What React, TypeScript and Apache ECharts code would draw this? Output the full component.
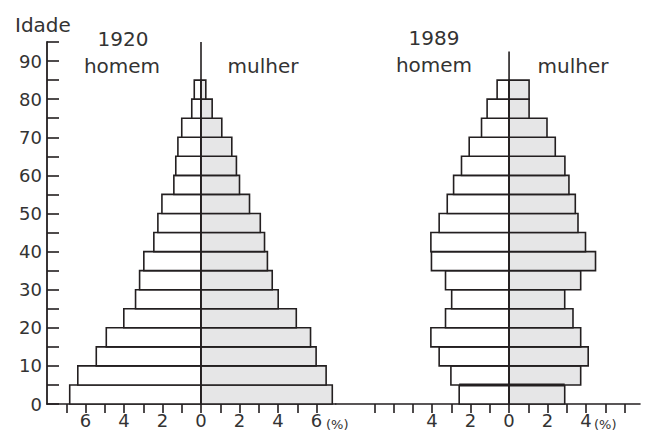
import React, { useEffect, useRef } from "react";
import * as echarts from "echarts";

const ageStarts = [0, 5, 10, 15, 20, 25, 30, 35, 40, 45, 50, 55, 60, 65, 70, 75, 80];
const homem1920 = [6.82, 6.4, 5.44, 4.92, 4.01, 3.4, 3.19, 2.97, 2.45, 2.24, 2.03, 1.41, 1.31, 1.2, 1.0, 0.48, 0.35];
const mulher1920 = [6.82, 6.5, 5.98, 5.69, 4.95, 4.01, 3.7, 3.45, 3.3, 3.08, 2.52, 2.0, 1.84, 1.6, 1.08, 0.58, 0.25];
const homem1989 = [2.59, 3.02, 3.63, 4.06, 3.3, 2.98, 3.3, 4.03, 4.06, 3.63, 3.21, 2.88, 2.47, 2.07, 1.43, 1.14, 0.62];
const mulher1989 = [2.89, 3.72, 4.11, 3.72, 3.32, 2.89, 3.72, 4.49, 3.97, 3.58, 3.44, 3.11, 2.9, 2.4, 1.97, 1.04, 1.04];

const xTicks = [-7, -6, -5, -4, -3, -2, -1, 0, 1, 2, 3, 4, 5, 6];
const xLabels1920 = [-6, -4, -2, 0, 2, 4, 6];
const xLabels1989 = [-4, -2, 0, 2, 4];

const INK = "#231f20";
const TXT = "#333333";
const FEM = "#e6e6e7";
const FONT = "DejaVu Sans";

function barSeries(name: string, values: number[], sign: number, fill: string, idx: number) {
  return {
    name,
    type: "custom",
    xAxisIndex: idx,
    yAxisIndex: idx,
    data: ageStarts.map((a, i) => [sign * values[i], a]),
    renderItem: (_p: any, api: any) => {
      const v = api.value(0);
      const age = api.value(1);
      const p0 = api.coord([0, age]);
      const p1 = api.coord([v, age + 5]);
      return {
        type: "rect",
        shape: {
          x: Math.min(p0[0], p1[0]),
          y: p1[1],
          width: Math.abs(p1[0] - p0[0]),
          height: p0[1] - p1[1],
        },
        style: { fill, stroke: INK, lineWidth: 1.6 },
      };
    },
    z: 2,
  };
}

export default function App() {
  const ref = useRef<HTMLDivElement>(null);
  useEffect(() => {
    if (!ref.current) return;
    const chart = echarts.init(ref.current, undefined, { renderer: "svg" });
    const axisLabelStyle = { color: TXT, fontSize: 18, fontFamily: FONT };
    const option: any = {
      animation: false,
      grid: [
        { left: 47, top: 42, width: 288.75, height: 362 },
        { left: 335.75, top: 42, width: 304.25, height: 362 },
      ],
      xAxis: [
        {
          type: "value",
          gridIndex: 0,
          min: -8,
          max: 7,
          splitLine: { show: false },
          axisLine: { show: true, onZero: false, lineStyle: { color: INK, width: 1.6 } },
          axisTick: { show: true, customValues: xTicks, length: 9, inside: false, lineStyle: { color: INK, width: 1.6 } },
          axisLabel: {
            ...axisLabelStyle,
            customValues: xLabels1920,
            margin: 7,
            formatter: (v: number) => String(Math.abs(v)),
          },
        },
        {
          type: "value",
          gridIndex: 1,
          min: -9,
          max: 6.8,
          splitLine: { show: false },
          axisLine: { show: true, onZero: false, lineStyle: { color: INK, width: 1.6 } },
          axisTick: { show: true, customValues: xTicks, length: 9, inside: false, lineStyle: { color: INK, width: 1.6 } },
          axisLabel: {
            ...axisLabelStyle,
            customValues: xLabels1989,
            margin: 7,
            formatter: (v: number) => String(Math.abs(v)),
          },
        },
      ],
      yAxis: [
        {
          type: "value",
          gridIndex: 0,
          min: 0,
          max: 95,
          interval: 5,
          splitLine: { show: false },
          axisLine: { show: true, onZero: false, lineStyle: { color: INK, width: 1.8 } },
          axisTick: { show: true, inside: true, length: 12, lineStyle: { color: INK, width: 1.6 } },
          axisLabel: {
            ...axisLabelStyle,
            margin: 5,
            formatter: (v: number) => (v % 10 === 0 && v <= 90 ? String(v) : ""),
          },
        },
        {
          type: "value",
          gridIndex: 1,
          min: 0,
          max: 95,
          show: false,
        },
      ],
      series: [
        barSeries("homem 1920", homem1920, -1, "#ffffff", 0),
        barSeries("mulher 1920", mulher1920, 1, FEM, 0),
        barSeries("homem 1989", homem1989, -1, "#ffffff", 1),
        barSeries("mulher 1989", mulher1989, 1, FEM, 1),
        {
          type: "line",
          xAxisIndex: 0,
          yAxisIndex: 0,
          data: [[0, 0], [0, 95]],
          symbol: "none",
          lineStyle: { color: INK, width: 1.6 },
          z: 5,
        },
        {
          type: "line",
          xAxisIndex: 1,
          yAxisIndex: 1,
          data: [[0, 0], [0, 92.5]],
          symbol: "none",
          lineStyle: { color: INK, width: 1.6 },
          z: 5,
        },
        {
          type: "line",
          xAxisIndex: 1,
          yAxisIndex: 1,
          data: [[-homem1989[0], 5], [mulher1989[0], 5]],
          symbol: "none",
          lineStyle: { color: INK, width: 3 },
          z: 4,
        },
      ],
      graphic: [
        { type: "text", left: 15, top: 15, style: { text: "Idade", fill: TXT, fontSize: 20, fontFamily: FONT } },
        { type: "text", x: 123, y: 39, style: { text: "1920", fill: TXT, fontSize: 20, fontFamily: FONT, align: "center", verticalAlign: "middle" } },
        { type: "text", x: 122, y: 66, style: { text: "homem", fill: TXT, fontSize: 20, fontFamily: FONT, align: "center", verticalAlign: "middle" } },
        { type: "text", x: 263, y: 66, style: { text: "mulher", fill: TXT, fontSize: 20, fontFamily: FONT, align: "center", verticalAlign: "middle" } },
        { type: "text", x: 434, y: 38, style: { text: "1989", fill: TXT, fontSize: 20, fontFamily: FONT, align: "center", verticalAlign: "middle" } },
        { type: "text", x: 434, y: 65, style: { text: "homem", fill: TXT, fontSize: 20, fontFamily: FONT, align: "center", verticalAlign: "middle" } },
        { type: "text", x: 573, y: 66, style: { text: "mulher", fill: TXT, fontSize: 20, fontFamily: FONT, align: "center", verticalAlign: "middle" } },
        { type: "text", x: 326, y: 424, style: { text: "(%)", fill: TXT, fontSize: 13, fontFamily: FONT, verticalAlign: "middle" } },
        { type: "text", x: 594, y: 424, style: { text: "(%)", fill: TXT, fontSize: 13, fontFamily: FONT, verticalAlign: "middle" } },
      ],
    };
    chart.setOption(option);
    return () => chart.dispose();
  }, []);
  return <div ref={ref} style={{ width: 646, height: 432, position: "absolute", left: 0, top: 0 }} />;
}
